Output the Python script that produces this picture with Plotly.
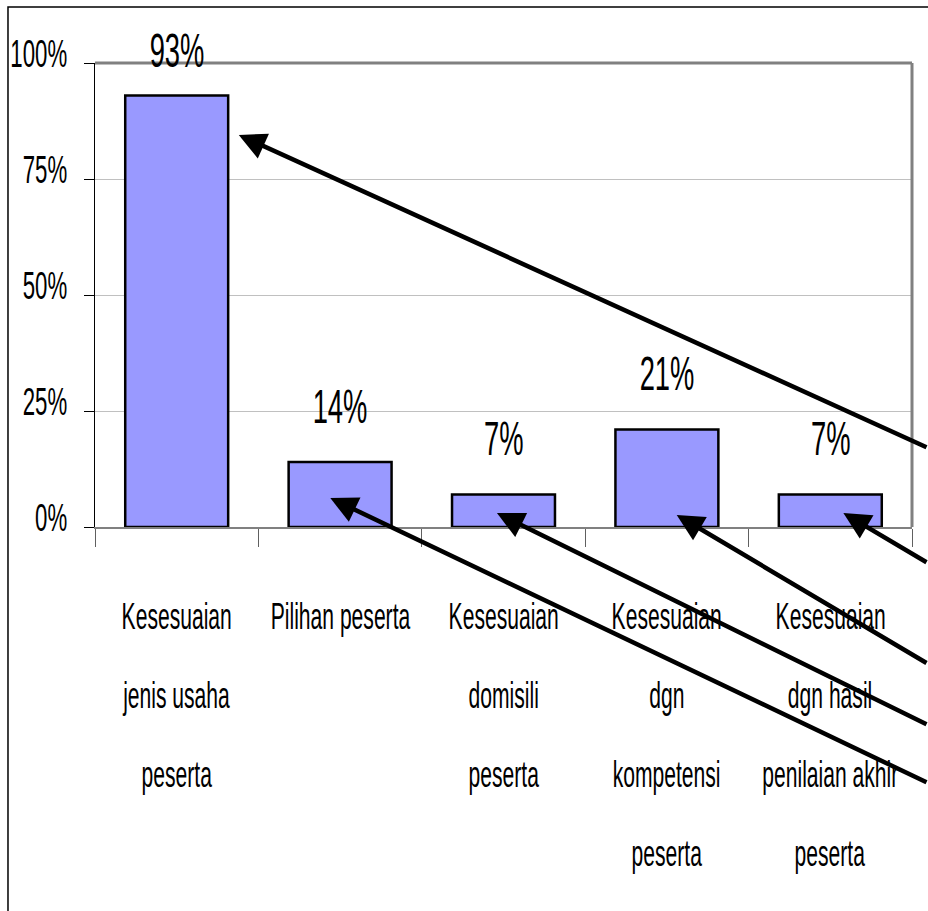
import plotly.graph_objects as go

# Share of respondents citing each matching criterion
label_lines = [
    ["Kesesuaian", "jenis usaha", "peserta"],
    ["Pilihan peserta"],
    ["Kesesuaian", "domisili", "peserta"],
    ["Kesesuaian", "dgn", "kompetensi", "peserta"],
    ["Kesesuaian", "dgn hasil", "penilaian akhir", "peserta"],
]
# which text row each line sits on
label_rows = [
    [0, 1, 2],
    [0],
    [0, 1, 2],
    [0, 1, 2, 3],
    [0, 1, 2, 3],
]
values = [0.93, 0.14, 0.07, 0.21, 0.07]
value_labels = ["93%", "14%", "7%", "21%", "7%"]
y_ticks = [0, 0.25, 0.5, 0.75, 1.0]
y_tick_labels = ["0%", "25%", "50%", "75%", "100%"]

# Where each callout arrow points (position on the category axis, height on the value axis)
arrow_x = [0.38, 0.94, 1.96, 3.06, 4.08]
arrow_y = [0.845, 0.0625, 0.03, 0.026, 0.03]
# Tail offsets of the callout arrows, in pixels from the head
arrow_dx = [700, 610, 442, 262, 96]
arrow_dy = [313, 285, 212, 149, 50]

FONT = "Liberation Sans, Arial, sans-serif"
PLOT_H = 464          # height of the plotting area in pixels
TOP_GAP = 13          # value labels may rise this far above the plot top
LABEL_LIFT = 56       # usual distance of a value label above its bar

categories = [" ".join(lines) for lines in label_lines]

fig = go.Figure()
fig.add_trace(go.Bar(
    x=categories,
    y=values,
    marker=dict(color="#9999FF", line=dict(color="black", width=2.5)),
    hoverinfo="skip",
))

annotations = []
# value labels above the bars (kept just above the plot top for tall bars)
for cat, v, txt in zip(categories, values, value_labels):
    lift = min(LABEL_LIFT, (1 - v) * PLOT_H + TOP_GAP)
    annotations.append(dict(
        x=cat, y=v, xref="x", yref="y", yshift=lift,
        text=txt, showarrow=False,
        font=dict(family=FONT, size=48, color="black"),
        yanchor="middle",
    ))

# category labels, one text per line with wide line spacing
for cat, lines, rows in zip(categories, label_lines, label_rows):
    for line, row in zip(lines, rows):
        annotations.append(dict(
            x=cat, y=0, xref="x", yref="paper",
            yshift=-89 - 79 * row,
            text=line, showarrow=False,
            font=dict(family=FONT, size=37, color="black"),
            yanchor="middle",
        ))

# callout arrows coming in from the right edge
for hx, hy, dx, dy in zip(arrow_x, arrow_y, arrow_dx, arrow_dy):
    annotations.append(dict(
        x=hx, y=hy, xref="x", yref="y",
        ax=dx, ay=dy, axref="pixel", ayref="pixel",
        text="", showarrow=True,
        arrowhead=2, arrowsize=1.2, arrowwidth=4.5, arrowcolor="black",
    ))

fig.update_layout(
    width=928, height=911,
    margin=dict(l=95, r=16, t=63, b=384, autoexpand=False),
    paper_bgcolor="white",
    plot_bgcolor="white",
    bargap=0.37,
    showlegend=False,
    font=dict(family=FONT, size=37, color="black"),
    annotations=annotations,
    shapes=[
        # outer frame of the chart
        dict(type="rect", xref="paper", yref="paper",
             x0=-0.1065, x1=1.2, y0=-1.2, y1=1.1207,
             line=dict(color="black", width=1.5), layer="below"),
        # plot area border (top and right)
        dict(type="line", xref="paper", yref="paper",
             x0=0, x1=1, y0=1, y1=1,
             line=dict(color="#808080", width=3)),
        dict(type="line", xref="paper", yref="paper",
             x0=1, x1=1, y0=0, y1=1,
             line=dict(color="#808080", width=3)),
    ],
)

fig.update_xaxes(
    type="category",
    range=[-0.5, 4.5],
    tickson="boundaries",
    ticks="outside", ticklen=18, tickwidth=1, tickcolor="#606060",
    showticklabels=False,
    showline=True, linecolor="#808080", linewidth=2,
    showgrid=False,
    automargin=False,
)

fig.update_yaxes(
    range=[0, 1],
    tickvals=y_ticks, ticktext=y_tick_labels,
    ticks="outside", ticklen=10, tickcolor="black",
    showline=True, linecolor="black", linewidth=1,
    showgrid=True, gridcolor="#C0C0C0", gridwidth=1,
    zeroline=False,
    tickfont=dict(family=FONT, size=39, color="black"),
    ticklabelstandoff=9,
    ticklabelshift=-10,
    automargin=False,
)

# Narrow the lettering horizontally (condensed look), keeping each text's anchor fixed
squeeze_js = """
var gd = document.getElementById('{plot_id}');
var S = 0.57;
gd.querySelectorAll('.ytick text, .annotation-text').forEach(function (t) {
  if (t.getAttribute('data-sq')) return;
  var b = t.getBBox();
  var a = t.getAttribute('text-anchor') || 'start';
  var cx = a === 'middle' ? b.x + b.width / 2 : (a === 'end' ? b.x + b.width : b.x);
  var tr = t.getAttribute('transform') || '';
  t.setAttribute('transform', tr + ' translate(' + cx + ',0) scale(' + S + ',1) translate(' + (-cx) + ',0)');
  t.setAttribute('data-sq', '1');
});
"""

fig.write_html("out.html", post_script=squeeze_js)
